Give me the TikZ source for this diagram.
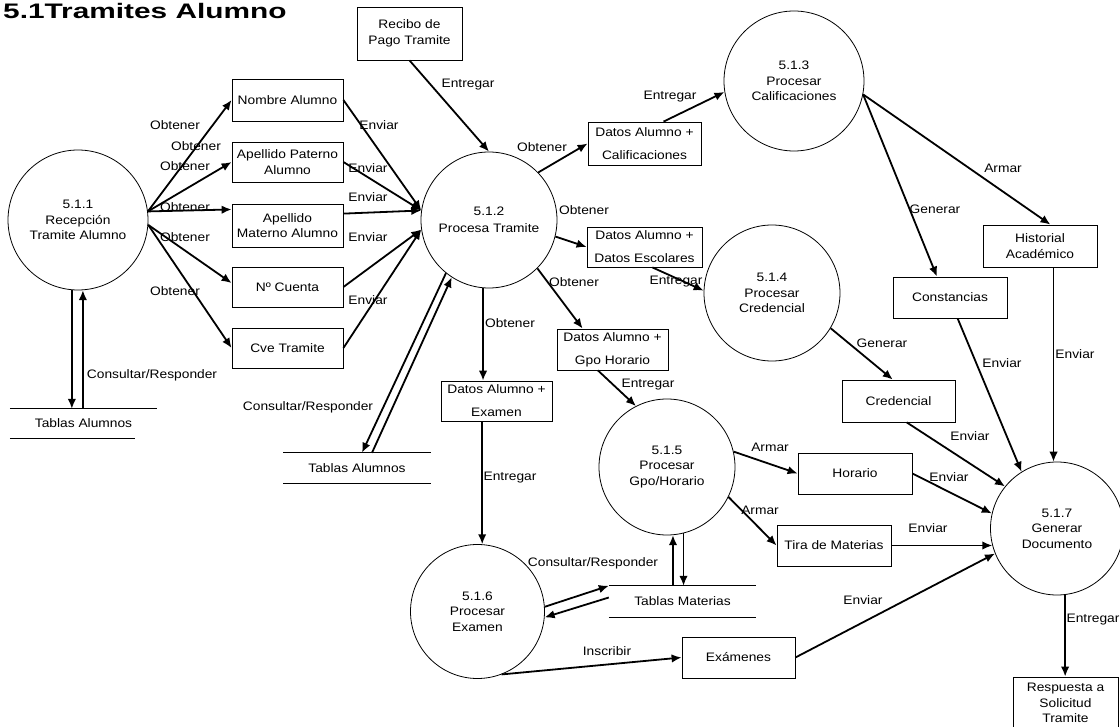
\documentclass[tikz,border=0pt]{standalone}
\usepackage{fontspec}
\setmainfont{Liberation Sans}
\newfontfamily\dfdfont[FakeStretch=1.12]{Liberation Sans}
\newfontfamily\dfdtitle[FakeStretch=1.42]{Liberation Sans}
\usetikzlibrary{arrows.meta}
\begin{document}
\begin{tikzpicture}[x=1pt,y=-1pt,
  every node/.style={font=\dfdfont\fontsize{12.3}{15.5}\selectfont},
  proc/.style={circle,draw,line width=0.8pt,inner sep=0pt,align=center},
  ebox/.style={rectangle,draw,line width=0.8pt,inner sep=0pt,align=center},
  dbox/.style={ebox,font=\dfdfont\fontsize{12.3}{23}\selectfont},
  store/.style={inner sep=0pt,minimum width=147pt},
  flow/.style={line width=1.8pt,-{Latex[length=10pt,width=8.5pt]}},
  lbl/.style={inner sep=0pt},
  stline/.style={line width=0.9pt}]

% canvas
\fill[white] (0,0) rectangle (1120,727);
\useasboundingbox (0,0) rectangle (1120,727);

% title
\node[anchor=base west,inner sep=0pt,font=\dfdtitle\bfseries\fontsize{21}{25}\selectfont] (title) at (3,19) {5.1Tramites Alumno};

% processes
\node[proc,minimum size=140pt] (c511) at (78,220) {5.1.1\\Recepción\\Tramite Alumno};
\node[proc,minimum size=136pt] (c512) at (489,220) {5.1.2\\[2pt]Procesa Tramite};
\node[proc,minimum size=140pt] (c513) at (794,81) {5.1.3\\Procesar\\Calificaciones};
\node[proc,minimum size=136pt] (c514) at (772,293) {5.1.4\\Procesar\\Credencial};
\node[proc,minimum size=136pt] (c515) at (667,467) {5.1.5\\Procesar\\Gpo/Horario};
\node[proc,minimum size=134pt] (c516) at (477.5,611.5) {5.1.6\\Procesar\\Examen};
\node[proc,minimum size=133pt] (c517) at (1057,528.5) {5.1.7\\Generar\\Documento};

% external entities / data flows
\node[ebox,minimum width=105pt,minimum height=53pt] (rec) at (409.5,33.5) {Recibo de\\Pago Tramite};
\node[ebox,minimum width=111pt,minimum height=42pt] (nom) at (287.5,100) {Nombre Alumno};
\node[ebox,minimum width=111pt,minimum height=40pt] (pat) at (287.5,162) {Apellido Paterno\\Alumno};
\node[ebox,minimum width=111pt,minimum height=43pt] (mat) at (287.5,225.5) {Apellido\\Materno Alumno};
\node[ebox,minimum width=111pt,minimum height=40pt] (cta) at (287.5,287) {Nº Cuenta};
\node[ebox,minimum width=111pt,minimum height=40pt] (cve) at (287.5,348) {Cve Tramite};
\node[dbox,minimum width=113pt,minimum height=43pt] (cal) at (644.5,143.5) {Datos Alumno +\\Calificaciones};
\node[dbox,minimum width=115pt,minimum height=40pt] (esc) at (644.5,247) {Datos Alumno +\\Datos Escolares};
\node[dbox,minimum width=111pt,minimum height=41pt] (gpo) at (612.5,349.5) {Datos Alumno +\\Gpo Horario};
\node[dbox,minimum width=111pt,minimum height=40pt] (exa) at (496.5,401) {Datos Alumno +\\Examen};
\node[ebox,minimum width=114pt,minimum height=42pt] (hist) at (1040,246) {Historial\\Académico};
\node[ebox,minimum width=114pt,minimum height=41pt] (con) at (950,297.5) {Constancias};
\node[ebox,minimum width=113pt,minimum height=42pt] (cred) at (898.5,401) {Credencial};
\node[ebox,minimum width=114pt,minimum height=41pt] (hor) at (855,473.5) {Horario};
\node[ebox,minimum width=114pt,minimum height=41pt] (tira) at (834,545.5) {Tira de Materias};
\node[ebox,minimum width=113pt,minimum height=41pt] (exm) at (738.5,657.5) {Exámenes};
\node[ebox,minimum width=105pt,minimum height=52pt] (resp) at (1065.5,703) {Respuesta a\\Solicitud\\Tramite};

% data stores
\node[store,minimum height=29pt] (ta1) at (83.5,423.5) {Tablas Alumnos};
\node[store,minimum height=30pt] (tam) at (357,468) {Tablas Alumnos};
\node[store,minimum height=31pt] (tm) at (682.5,601.5) {Tablas Materias};
\draw[stline] (ta1.north west) -- (ta1.north east);
\draw[stline] (ta1.south west) -- ++(125,0);
\draw[stline] (tam.north west) -- (tam.north east);
\draw[stline] (tam.south west) -- (tam.south east);
\draw[stline] (tm.north west) -- (tm.north east);
\draw[stline] (tm.south west) -- (tm.south east);

% flows out of 5.1.1
\draw[flow] (c511.7) -- (nom.west);
\draw[flow] (c511.7) -- (pat.west);
\draw[flow] (c511.7) -- (mat.164);
\draw[flow] (c511.356) -- (cta.176);
\draw[flow] (c511.356) -- (cve.west);
\draw[flow] (c511.265) -- (c511.265 |- ta1.north);
\draw[flow] (c511.274 |- ta1.north) -- (c511.274);

% flows into 5.1.2
\draw[flow] (nom.east) -- (c512.172);
\draw[flow] (pat.east) -- (c512.172);
\draw[flow] (mat.12) -- (c512.172);
\draw[flow] (cta.east) -- (c512.188);
\draw[flow] (cve.east) -- (c512.188);
\draw[flow] (rec.south) -- (c512.north);
\draw[flow] (c512.231) -- ([xshift=5pt]tam.north);
\draw[flow] ([xshift=15pt]tam.north) -- (c512.237);

% flows out of 5.1.2
\draw[flow] (c512.44) -- (cal.west);
\draw[flow] (cal.49) -- (c513.189);
\draw[flow] (c512.346) -- (esc.west);
\draw[flow] (esc.291) -- (c514.178);
\draw[flow] (c512.315) -- (gpo.145);
\draw[flow] (gpo.235) -- (c515.117);
\draw[flow] (c512.265) -- (c512.265 |- exa.north);
\draw[flow] (c516.86 |- exa.south) -- (c516.86);

% 5.1.3 and 5.1.4
\draw[flow] (c513.349) -- (con.122);
\draw[flow] (c513.349) -- (hist.64);
\draw[flow] (c514.329) -- (cred.105);

% 5.1.5 and 5.1.6
\draw[flow] (c515.13) -- (hor.west);
\draw[flow] (c515.334) -- (tira.west);
\draw[flow] (c515.275 |- tm.north) -- (c515.275);
\draw[flow] (c515.284) -- (c515.284 |- tm.north);
\draw[flow] (c516.4) -- (tm.north west);
\draw[flow] ([yshift=4pt]tm.west) -- (c516.355);
\draw[flow] (c516.291) -- (exm.west);

% into 5.1.7
\draw[flow] (exm.east) -- (c517.202);
\draw[flow] (tira.east) -- (tira.east -| c517.195);
\draw[flow] (hor.east) -- (c517.167);
\draw[flow] (cred.291) -- (c517.141);
\draw[flow] (con.290) -- (c517.122);
\draw[flow] (c517.93 |- hist.south) -- (c517.93);
\draw[flow] (c517.277) -- (c517.277 |- resp.north);

% flow labels
\node[lbl] (l01) at (175,125) {Obtener};
\node[lbl] (l02) at (196,146) {Obtener};
\node[lbl] (l03) at (185,166) {Obtener};
\node[lbl] (l04) at (185,207) {Obtener};
\node[lbl] (l05) at (185,237) {Obtener};
\node[lbl] (l06) at (175,291) {Obtener};
\node[lbl] (l07) at (152,375) {Consultar/Responder};
\node[lbl] (l08) at (379,125) {Enviar};
\node[lbl] (l09) at (368,168) {Enviar};
\node[lbl] (l10) at (368,197) {Enviar};
\node[lbl] (l11) at (368,237) {Enviar};
\node[lbl] (l12) at (368,300) {Enviar};
\node[lbl] (l13) at (468,85) {Entregar};
\node[lbl] (l14) at (308,407) {Consultar/Responder};
\node[lbl] (l15) at (542,147) {Obtener};
\node[lbl] (l16) at (670,97) {Entregar};
\node[lbl] (l17) at (584,210) {Obtener};
\node[lbl] (l18) at (676,282) {Entregar};
\node[lbl] (l19) at (574,282) {Obtener};
\node[lbl] (l20) at (510,323) {Obtener};
\node[lbl] (l21) at (648,385) {Entregar};
\node[lbl] (l22) at (510,478) {Entregar};
\node[lbl] (l23) at (770,447) {Armar};
\node[lbl] (l24) at (760,510) {Armar};
\node[lbl] (l25) at (593,563) {Consultar/Responder};
\node[lbl] (l26) at (607,651) {Inscribir};
\node[lbl] (l27) at (863,600) {Enviar};
\node[lbl] (l28) at (928,528) {Enviar};
\node[lbl] (l29) at (949,477) {Enviar};
\node[lbl] (l30) at (970,436) {Enviar};
\node[lbl] (l31) at (1002,363) {Enviar};
\node[lbl] (l32) at (1075,354) {Enviar};
\node[lbl] (l33) at (1093,620) {Entregar};
\node[lbl] (l34) at (882,343) {Generar};
\node[lbl] (l35) at (935,209) {Generar};
\node[lbl] (l36) at (1003,168) {Armar};
\end{tikzpicture}
\end{document}
